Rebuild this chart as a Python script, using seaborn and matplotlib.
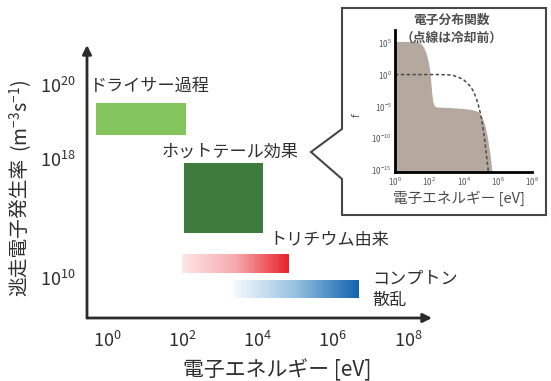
import numpy as np
import pandas as pd
import matplotlib
matplotlib.use("Agg")
import matplotlib.pyplot as plt
import seaborn as sns
from matplotlib.colors import LinearSegmentedColormap
from matplotlib.patches import Polygon

# ---- runaway-electron sources (energies and rates as log10 exponents) ----
processes = ["ドライサー過程", "ホットテール効果", "トリチウム由来", "コンプトン\n散乱"]
energy_lo = [-0.3, 2.05, 2.0, 3.35]       # log10 E [eV]
energy_hi = [2.1, 4.15, 4.85, 6.7]
rate_lo = [18.65, 13.0, 10.35, 8.65]       # log10 rate [m^-3 s^-1]
rate_hi = [19.5, 17.75, 11.6, 9.9]

energy_ticks = [0, 2, 4, 6, 8]
rate_ticks = [10, 18, 20]

# ---- electron distribution function (inset), log10 values ----
dist_logE = [0.0, 1.0, 1.3, 1.5, 1.65, 1.8, 1.92, 2.0, 2.07, 2.13, 2.2, 2.3,
             2.45, 3.0, 3.55, 4.0, 4.5, 4.8, 4.95, 5.1, 5.25, 5.38, 5.48,
             5.56, 5.62, 5.66]
dist_logf = [5.2, 5.2, 5.15, 4.9, 4.4, 3.5, 2.3, 1.2, -0.5, -2.5, -4.2, -4.95,
             -5.1, -5.15, -5.25, -5.35, -5.5, -5.75, -6.1, -6.8, -8.0, -9.6,
             -11.3, -12.8, -14.2, -15.3]
precool_logE = [0.0, 2.5, 3.16, 3.4, 3.65, 3.85, 4.04, 4.25, 4.43, 4.57, 4.68,
                4.78, 4.87, 4.96, 5.05, 5.13, 5.2, 5.27, 5.34, 5.39, 5.42, 5.45]
precool_logf = [0.0, 0.0, -0.05, -0.15, -0.37, -0.6, -0.9, -1.4, -1.95, -2.6,
                -3.26, -4.0, -4.83, -5.8, -6.9, -8.2, -9.55, -11.1, -12.7,
                -13.8, -14.5, -15.2]
inset_xticks = [0, 2, 4, 6, 8]
inset_yticks = [-15, -10, -5, 0, 5]

sns.set_theme(style="white")
plt.rcParams["font.family"] = ["Noto Sans CJK JP", "DejaVu Sans"]
plt.rcParams["mathtext.fontset"] = "custom"
plt.rcParams["mathtext.rm"] = "Lato"
plt.rcParams["mathtext.it"] = "Lato:italic"

W, H = 551, 381
fig = plt.figure(figsize=(W / 100, H / 100), dpi=100)
fig.patch.set_facecolor("white")


def fr(px, py):
    """pixel position (from top-left) -> figure fraction"""
    return px / W, 1 - py / H


TXT = "#2f2f2f"

# ---- main panel ----
ax = fig.add_axes([87 / W, 63 / H, 345 / W, 273 / H])
ax.set_facecolor("none")

# schematic rate axis: compressed below 1e18, expanded above
RATE_KNOTS = [6, 10, 18, 22]
POS_KNOTS = [-4, 0, 8, 17.93]
ax.set_yscale("function",
              functions=(lambda v: np.interp(v, RATE_KNOTS, POS_KNOTS),
                         lambda p: np.interp(p, POS_KNOTS, RATE_KNOTS)))
ax.set_xlim(-0.53, 8.64)
ax.set_ylim(7.32, 21.08)

solid_colors = {0: "#83c55c", 1: "#3f7b3c"}
for i in solid_colors:
    ax.bar(x=energy_lo[i], height=rate_hi[i] - rate_lo[i],
           width=energy_hi[i] - energy_lo[i], bottom=rate_lo[i], align="edge",
           color=solid_colors[i], edgecolor="none", linewidth=0)

grad_maps = {
    2: LinearSegmentedColormap.from_list("trit", ["#fde5e6", "#f5a9ac", "#e8222a"]),
    3: LinearSegmentedColormap.from_list("comp", ["#f6fafd", "#96c0e0", "#1263ae"]),
}
for i, cmap in grad_maps.items():
    xe = np.linspace(energy_lo[i], energy_hi[i], 121)
    ramp = np.linspace(0, 1, 120)[np.newaxis, :]
    ax.pcolormesh(xe, [rate_lo[i], rate_hi[i]], ramp, cmap=cmap,
                  shading="flat", edgecolor="face", linewidth=0,
                  antialiased=False)

for s in ax.spines.values():
    s.set_visible(False)
ax.grid(False)

arrow = dict(arrowstyle="-|>", color="#2b2b2b", lw=2.0,
             shrinkA=0, shrinkB=0, mutation_scale=13)
ax.annotate("", xy=(1.0, 0.0), xytext=(0.0, 0.0), xycoords="axes fraction",
            arrowprops=arrow)
ax.annotate("", xy=(0.0, 1.0), xytext=(0.0, 0.0), xycoords="axes fraction",
            arrowprops=arrow)

ax.set_xticks(energy_ticks)
ax.set_xticklabels([r"$\mathregular{10^{%d}}$" % e for e in energy_ticks])
ax.set_yticks(rate_ticks)
ax.set_yticklabels([r"$\mathregular{10^{%d}}$" % r for r in rate_ticks])
ax.yaxis.set_minor_locator(matplotlib.ticker.NullLocator())
ax.tick_params(axis="both", length=0, labelsize=13, colors=TXT)
ax.tick_params(axis="x", pad=9)
ax.tick_params(axis="y", pad=8)

# process labels
label_pos = [(-0.45, 19.97), (1.46, 18.19), (4.31, 12.56), (7.05, 9.23)]
for name, (x, y) in zip(processes, label_pos):
    ax.text(x, y, name, ha="left", va="center", fontsize=12.3, color=TXT,
            linespacing=1.25)

fig.text(*fr(277, 370), "電子エネルギー [eV]", ha="center", va="center",
         fontsize=15, color=TXT)
# rate axis title: Japanese part plus unit with superscripts
fig.text(*fr(20, 227), "逃走電子発生率", ha="center", va="center",
         rotation=90, fontsize=14.2, color=TXT)
fig.text(*fr(21, 116), r"$\mathregular{(m^{-3}s^{-1})}$", ha="center",
         va="center", rotation=90, fontsize=14, color=TXT)

# ---- callout frame for the inset ----
frame_px = [(342, 8), (546, 8), (546, 215), (342, 215), (342, 179),
            (311, 152), (342, 129)]
frame = Polygon([fr(*p) for p in frame_px], closed=True, fill=False,
                edgecolor="#474747", linewidth=1.5, transform=fig.transFigure,
                joinstyle="miter")
fig.add_artist(frame)

# ---- inset: electron distribution function ----
ins = fig.add_axes([395 / W, (H - 172) / H, 137 / W, 142 / H])
ins.set_facecolor("none")
ins.fill_between(dist_logE, dist_logf, -15.3, color="#b5a89e", linewidth=0)
pre = pd.DataFrame({"logE": precool_logE, "logf": precool_logf})
sns.lineplot(data=pre, x="logE", y="logf", ax=ins, color="#4a4a4a",
             linewidth=1.1, estimator=None)
ins.lines[-1].set_dashes((2.2, 1.6))
ins.set_xlim(0, 8)
ins.set_ylim(-15.3, 7.0)
for side in ("top", "right"):
    ins.spines[side].set_visible(False)
for side in ("left", "bottom"):
    ins.spines[side].set_color("black")
    ins.spines[side].set_linewidth(2.0)
ins.set_xticks(inset_xticks)
ins.set_xticklabels([r"$\mathregular{10^{%d}}$" % e for e in inset_xticks])
ins.set_yticks(inset_yticks)
ins.set_yticklabels([r"$\mathregular{10^{%d}}$" % e for e in inset_yticks])
ins.tick_params(length=0, labelsize=5.8, colors="#555555", pad=2.5)
ins.set_xlabel("")
ins.set_ylabel("")
ins.grid(False)

fig.text(*fr(357, 115), "f", rotation=90, ha="center", va="center",
         fontsize=7.5, color="#555555", family="DejaVu Sans")
fig.text(*fr(452, 20), "電子分布関数", ha="center", va="center",
         fontsize=9.2, fontweight="bold", color="#505050")
fig.text(*fr(452, 38), "（点線は冷却前）", ha="center", va="center",
         fontsize=9.2, fontweight="bold", color="#505050")
fig.text(*fr(459, 198), "電子エネルギー [eV]", ha="center", va="center",
         fontsize=10.5, color="#4a4a4a")

fig.savefig("out.png", dpi=100, facecolor="white")
